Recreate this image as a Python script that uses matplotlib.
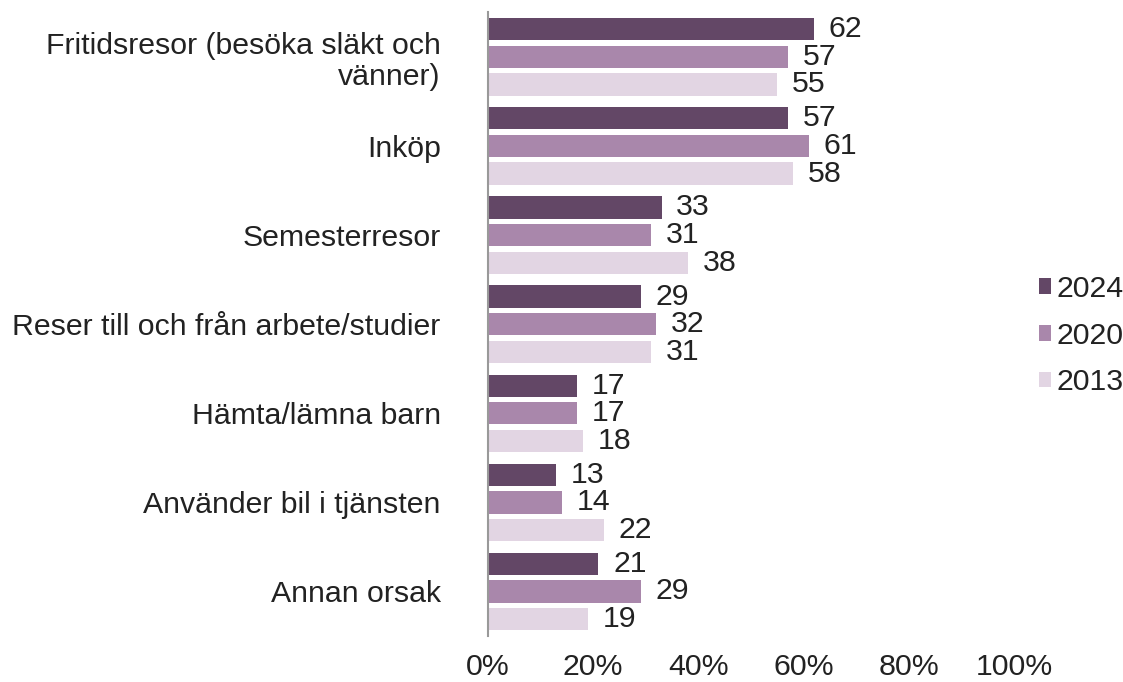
import numpy as np
import matplotlib.pyplot as plt
from matplotlib.patches import Patch

plt.rcParams["font.family"] = ["Liberation Sans", "DejaVu Sans"]

categories = [
    "Fritidsresor (besöka släkt och\nvänner)",
    "Inköp",
    "Semesterresor",
    "Reser till och från arbete/studier",
    "Hämta/lämna barn",
    "Använder bil i tjänsten",
    "Annan orsak",
]
years = ["2024", "2020", "2013"]
values_2024 = [62, 57, 33, 29, 17, 13, 21]
values_2020 = [57, 61, 31, 32, 17, 14, 29]
values_2013 = [55, 58, 38, 31, 18, 22, 19]
xticks = [0, 20, 40, 60, 80, 100]

colors = ["#634766", "#a987ab", "#e2d5e3"]
series = [values_2024, values_2020, values_2013]
fs = 21.8
txt = "#222222"

fig = plt.figure(figsize=(11.23, 6.82), dpi=100)
ax = fig.add_axes([0.4345, 0.0674, 0.4685, 0.9146])

y = np.arange(len(categories))
pitch = 0.31
height = 0.25
for i, (vals, col) in enumerate(zip(series, colors)):
    pos = y + (i - 1) * pitch
    ax.barh(pos, vals, height=height, color=col, edgecolor="none")
    for p, v in zip(pos, vals):
        ax.text(v + 2.8, p, str(v), va="center", ha="left", fontsize=fs,
                color=txt)

ax.set_ylim(len(categories) - 0.5, -0.5)
ax.set_xlim(0, 100)
ax.set_yticks(y)
ax.set_yticklabels(categories, fontsize=fs, color=txt, ha="right",
                   linespacing=1.15)
ax.set_xticks(xticks)
ax.set_xticklabels([f"{t}%" for t in xticks], fontsize=fs, color=txt)
ax.tick_params(axis="y", length=0, pad=34)
ax.tick_params(axis="x", length=0, pad=12)
for s in ["top", "right", "bottom"]:
    ax.spines[s].set_visible(False)
ax.spines["left"].set_color("#999999")
ax.spines["left"].set_linewidth(1.5)

handles = [Patch(facecolor=c, edgecolor="none") for c in colors]
fig.legend(handles, years, loc="center left", bbox_to_anchor=(0.925, 0.508),
           frameon=False, fontsize=fs, handlelength=0.42, handleheight=0.42,
           handletextpad=0.15, labelspacing=0.62, labelcolor=txt,
           borderpad=0, borderaxespad=0)

fig.savefig("out.png", dpi=100)
